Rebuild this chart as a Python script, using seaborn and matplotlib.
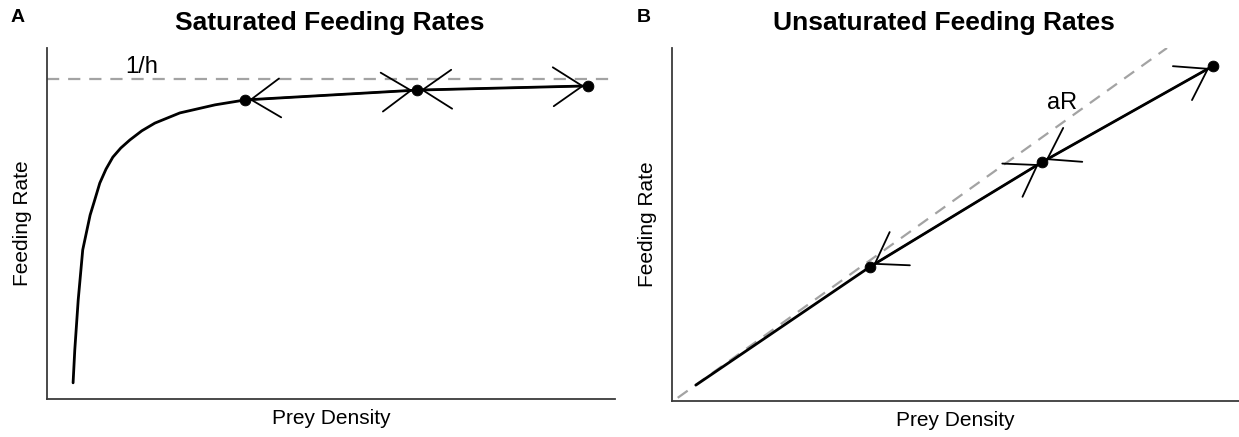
import matplotlib
matplotlib.use("Agg")
import matplotlib.pyplot as plt
import seaborn as sns

plt.ioff()

# panel A: saturated (type II) feeding curve (0-100 units)
SAT_PREY = [4.6, 4.9, 5.5, 6.3, 7.6, 8.3, 9.3, 10.4, 11.6, 13.0, 14.6, 16.7, 19.0,
            23.4, 29.6, 34.9, 65.1, 95.3]
SAT_RATE = [4.6, 14.0, 28.2, 42.5, 52.4, 56.1, 61.5, 65.5, 68.9, 71.5, 73.8, 76.4, 78.6,
            81.5, 83.8, 85.2, 88.0, 89.2]
SAT_POINTS_PREY = [34.9, 65.1, 95.3]
SAT_POINTS_RATE = [85.2, 88.0, 89.2]
SAT_LIMIT_PREY = [0.0, 99.6]
SAT_LIMIT_RATE = [91.2, 91.2]

# panel B: unsaturated feeding curve
UNSAT_PREY = [4.2, 34.9, 65.3, 95.4]
UNSAT_RATE = [4.5, 38.0, 67.7, 94.9]
UNSAT_POINTS_PREY = [34.9, 65.3, 95.4]
UNSAT_POINTS_RATE = [38.0, 67.7, 94.9]
UNSAT_LIMIT_PREY = [1.0, 87.3]
UNSAT_LIMIT_RATE = [0.9, 100.0]

LINE_COLOR = "black"
DASH_COLOR = "#a3a3a3"
SPINE_COLOR = "#3a3a3a"


def configure_plot_style():
    sns.set_theme(style="white", context="paper")
    plt.rcParams.update({
        "figure.dpi": 100,
        "savefig.dpi": 100,
        "text.color": "black",
        "axes.labelcolor": "black",
        "font.family": ["Liberation Sans", "DejaVu Sans"],
    })


def draw_panel(ax, curve_x, curve_y, pts_x, pts_y, lim_x, lim_y, title, title_x):
    sns.lineplot(x=lim_x, y=lim_y, ax=ax, color=DASH_COLOR, lw=1.6, sort=False, estimator=None)
    ax.lines[-1].set_dashes((5.5, 4.0))
    sns.lineplot(x=curve_x, y=curve_y, ax=ax, color=LINE_COLOR, lw=2.0, sort=False, estimator=None)
    for i in range(len(pts_x) - 1):
        ax.annotate(
            "",
            xy=(pts_x[i + 1], pts_y[i + 1]),
            xytext=(pts_x[i], pts_y[i]),
            arrowprops=dict(
                arrowstyle="<->,head_length=21,head_width=14",
                mutation_scale=1,
                color=LINE_COLOR,
                lw=1.3,
                shrinkA=3,
                shrinkB=3,
            ),
        )
    sns.scatterplot(x=pts_x, y=pts_y, ax=ax, color=LINE_COLOR, s=60, edgecolor=LINE_COLOR, zorder=5)

    ax.set_xlim(0, 100)
    ax.set_ylim(0, 100)
    ax.set_xticks([])
    ax.set_yticks([])
    for side in ("top", "right"):
        ax.spines[side].set_visible(False)
    for side in ("left", "bottom"):
        ax.spines[side].set_color(SPINE_COLOR)
        ax.spines[side].set_linewidth(1.3)
    ax.set_xlabel("Prey Density", fontsize=15, labelpad=7)
    ax.set_ylabel("Feeding Rate", fontsize=15, labelpad=11)
    ax.set_title(title, fontsize=19, fontweight="bold", x=title_x, pad=13)


def main():
    configure_plot_style()
    fig = plt.figure(figsize=(12.39, 4.37))
    ax_a = fig.add_axes([0.0379, 0.0870, 0.4584, 0.8032])
    ax_b = fig.add_axes([0.5424, 0.0824, 0.4576, 0.8078])

    draw_panel(ax_a, SAT_PREY, SAT_RATE, SAT_POINTS_PREY, SAT_POINTS_RATE,
               SAT_LIMIT_PREY, SAT_LIMIT_RATE, "Saturated Feeding Rates", 0.498)
    ax_a.text(16.7, 94.5, "1/h", fontsize=17, ha="center", va="center")

    draw_panel(ax_b, UNSAT_PREY, UNSAT_RATE, UNSAT_POINTS_PREY, UNSAT_POINTS_RATE,
               UNSAT_LIMIT_PREY, UNSAT_LIMIT_RATE, "Unsaturated Feeding Rates", 0.48)
    ax_b.text(68.8, 84.4, "aR", fontsize=17, ha="center", va="center")

    fig.text(0.0145, 0.959, "A", fontsize=14, fontweight="bold", ha="center", va="center")
    fig.text(0.5198, 0.959, "B", fontsize=14, fontweight="bold", ha="center", va="center")

    fig.savefig("out.png", dpi=100)
    plt.close(fig)


if __name__ == "__main__":
    main()
